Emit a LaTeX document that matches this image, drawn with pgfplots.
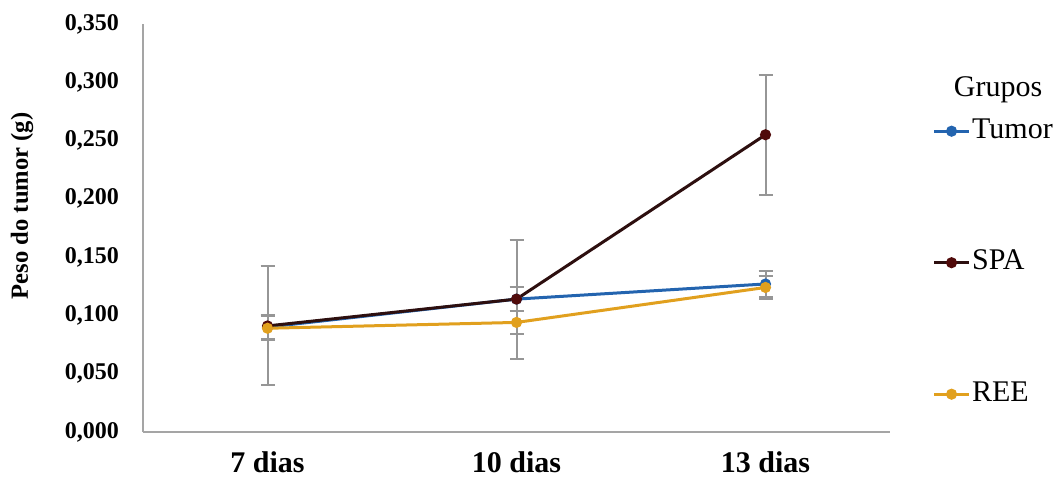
\documentclass[border=0pt]{standalone}
\usepackage{fontspec}
\setmainfont{Liberation Serif}
\usepackage{pgfplots}
\pgfplotsset{compat=1.18}
\definecolor{cTumor}{RGB}{35,100,175}
\definecolor{cSPA}{RGB}{45,15,15}
\definecolor{cSPAm}{RGB}{80,10,10}
\definecolor{cREE}{RGB}{225,160,30}
\definecolor{cAxis}{RGB}{165,165,165}
\definecolor{cErr}{RGB}{150,150,150}
\begin{document}
\begin{tikzpicture}
\useasboundingbox (0,0) rectangle (532pt,238.5pt);
\begin{axis}[
  scale only axis, width=373.5pt, height=204pt,
  at={(71.5pt,22.5pt)}, anchor=south west,
  xmin=-0.5, xmax=2.5, ymin=0, ymax=0.35,
  axis x line=bottom, axis y line=left,
  axis line style={-, cAxis, line width=1.4pt},
  xtick={0,1,2}, xticklabels={7 dias,10 dias,13 dias},
  ytick={0,0.05,...,0.35},
  major tick length=0pt,
  yticklabel shift=8.5pt, xticklabel shift=6.5pt,
  /pgf/number format/.cd, fixed, fixed zerofill, precision=3, use comma, assume math mode=true,
  /pgfplots/.cd,
  y tick label style={font=\fontsize{12}{14}\selectfont\bfseries},
  x tick label style={font=\fontsize{15}{17}\selectfont\bfseries},
  scaled y ticks=false,
  ylabel={Peso do tumor (g)},
  every axis y label/.style={at={(axis description cs:-0.162,0.554)}, rotate=90, anchor=center, font=\fontsize{12.3}{14}\selectfont\bfseries},
  legend style={at={(axis description cs:1.057,0.775)}, anchor=north west, draw=none, fill=none, inner sep=0pt,
    row sep=50.75pt, font=\fontsize{15}{17}\selectfont,
    nodes={text height=10pt, text depth=3pt, inner sep=1pt}},
  legend cell align=left,
  clip=false,
]
\addplot[cTumor, line width=1.5pt, mark=*, mark size=2pt,
  error bars/.cd, y dir=both, y explicit,
  error bar style={cErr, line width=1pt},
  error mark options={rotate=90, mark size=3.5pt, cErr, line width=1pt}]
  coordinates {(0,0.090) +- (0,0.010) (1,0.114) +- (0,0.010) (2,0.127) +- (0,0.011)};
\addlegendentry{Tumor}
\addplot[cSPA, line width=1.5pt, mark=*, mark size=2pt, mark options={cSPAm},
  error bars/.cd, y dir=both, y explicit,
  error bar style={cErr, line width=1pt},
  error mark options={rotate=90, mark size=3.5pt, cErr, line width=1pt}]
  coordinates {(0,0.091) +- (0,0.051) (1,0.114) +- (0,0.051) (2,0.255) +- (0,0.0515)};
\addlegendentry{SPA}
\addplot[cREE, line width=1.5pt, mark=*, mark size=2pt,
  error bars/.cd, y dir=both, y explicit,
  error bar style={cErr, line width=1pt},
  error mark options={rotate=90, mark size=3.5pt, cErr, line width=1pt}]
  coordinates {(0,0.089) +- (0,0.0105) (1,0.094) +- (0,0.010) (2,0.124) +- (0,0.010)};
\addlegendentry{REE}
\node[font=\fontsize{15}{17}\selectfont] at (axis description cs:1.1446,0.838) {Grupos};
\end{axis}
\end{tikzpicture}
\end{document}
